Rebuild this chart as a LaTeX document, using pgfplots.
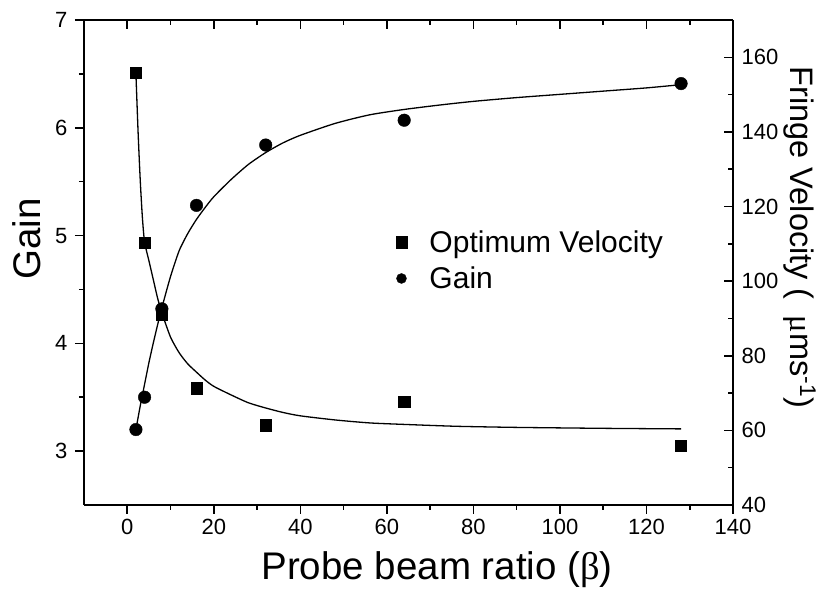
\documentclass[border=0pt]{standalone}
\usepackage{pgfplots}
\pgfplotsset{compat=1.18}
\usepackage{fontspec}
\setmainfont{Liberation Sans}
\newfontfamily\serif{Liberation Serif}
\pgfplotsset{
  mylegimg/.style={legend image code/.code={\path[draw=none,fill=none] (-6pt,0pt) -- (26pt,0pt);\draw[mark repeat=2,mark phase=2,##1] plot coordinates {(-1pt,0pt)(0pt,0pt)(1pt,0pt)};}},
  common/.style={
    at={(0pt,0pt)}, anchor=south west,
    scale only axis, width=649pt, height=485pt,
    xmin=-10, xmax=140,
    xtick={0,20,...,140},
    minor x tick num=1, minor y tick num=1,
    major tick length=9pt, minor tick length=5pt,
    every tick/.append style={line width=1.6pt, black},
    axis line style={-, line width=2pt},
    tick label style={font=\fontsize{22}{26}\selectfont},
    /pgf/number format/assume math mode=true,
  }
}
\begin{document}
\begin{tikzpicture}
\begin{axis}[common,
  ymin=2.5, ymax=7, ytick={3,4,5,6,7},
  axis x line*=bottom, axis y line*=left,
  tick align=outside,
  yticklabel style={xshift=-4pt},
  xticklabel style={yshift=-2pt},
  xlabel={Probe beam ratio ({\serif β})},
  ylabel={Gain},
  label style={font=\fontsize{38.5}{42}\selectfont},
  xlabel style={at={(axis description cs:0.544,-0.134)}, anchor=center},
  ylabel style={at={(axis description cs:-0.088,0.548)}, anchor=center},
]
% fitted gain curve (digitised)
\addplot[black, line width=1.3pt, smooth, tension=0.4, no marks] coordinates {
(2,3.2)(3,3.42)(4,3.62)(5,3.82)(6,4.0)(7,4.17)(8,4.33)(10,4.62)(12,4.86)(14,5.02)
(16,5.15)(18,5.26)(20,5.36)(24,5.52)(28,5.66)(32,5.77)(36,5.86)(40,5.93)(48,6.04)
(56,6.12)(64,6.17)(72,6.21)(80,6.245)(90,6.28)(100,6.31)(110,6.34)(120,6.37)(128,6.40)};
% gain data
\addplot[black, only marks, mark=*, mark size=6.3pt] coordinates {
(2,3.2)(4,3.5)(8,4.32)(16,5.28)(32,5.84)(64,6.07)(128,6.41)};
\end{axis}
\begin{axis}[common,
  ymin=40, ymax=170, ytick={40,60,...,160},
  axis x line*=top, axis y line*=right,
  xticklabels={},
  tick align=inside,
  yticklabel style={xshift=5pt},
  ylabel={Fringe Velocity (\hspace{0.5em}{\serif μ}ms\textsuperscript{-1})},
  ylabel style={font=\fontsize{32.5}{36}\selectfont, at={(axis description cs:1.103,0.5515)}, anchor=center, rotate=180},
  legend style={draw=none, fill=none, at={(axis description cs:0.475,0.5744)}, anchor=north west,
    font=\fontsize{30}{33}\selectfont, row sep=9pt},
  legend cell align=left,
]
% fitted velocity curve (digitised)
\addplot[black, line width=1.3pt, smooth, tension=0.4, no marks, forget plot] coordinates {
(2,155.6)(2.5,140)(3,127)(3.5,117)(4,110.5)(5,105.5)(6,100.5)(7,95.5)(8,91.5)(10,85)
(12,80.8)(14,77.8)(16,75.6)(18,73.5)(20,71.8)(24,69.5)(28,67.4)(32,66.0)(36,64.8)
(40,63.9)(48,62.8)(56,62.0)(64,61.6)(76,61.1)(90,60.8)(110,60.55)(128,60.4)};
% optimum velocity data
\addplot[black, only marks, mark=square*, mark size=5.6pt, mylegimg]
  coordinates {(2,155.9)(4,110.2)(8,90.9)(16,71.3)(32,61.4)(64,67.6)(128,55.9)};
\addlegendentry{Optimum Velocity}
\addlegendimage{black, only marks, mark=*, mark size=5pt, mylegimg}
\addlegendentry{Gain}
\end{axis}
\pgfresetboundingbox
\path (-84pt,-89pt) rectangle (747pt,505pt);
\end{tikzpicture}
\end{document}
